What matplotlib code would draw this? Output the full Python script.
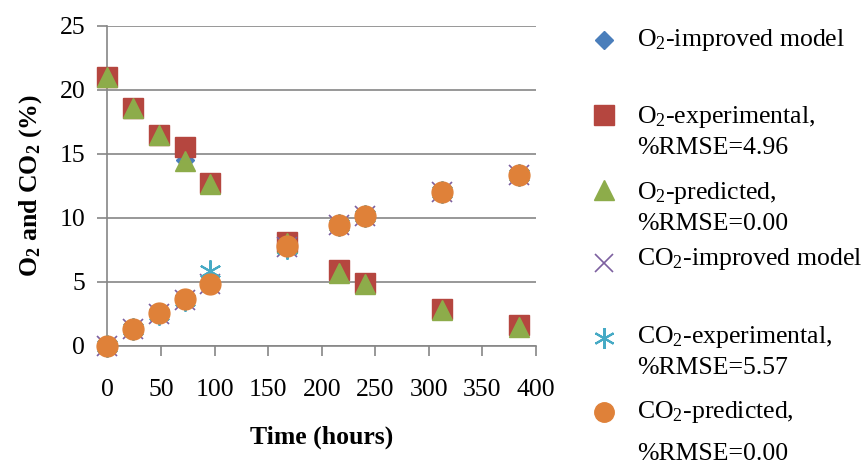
import matplotlib
matplotlib.use("Agg")
import matplotlib.pyplot as plt

# Storage time (hours)
time_h = [0, 24, 48, 72, 96, 168, 216, 240, 312, 384]

# O2 concentration (%)
o2_improved = [21.0, 18.6, 16.5, 14.5, 12.6, 8.0, 5.7, 4.8, 2.8, 1.5]
o2_experimental = [21.0, 18.6, 16.5, 15.5, 12.7, 8.1, 5.9, 4.9, 2.85, 1.6]
o2_predicted = [21.0, 18.6, 16.5, 14.4, 12.6, 8.0, 5.7, 4.8, 2.8, 1.5]

# CO2 concentration (%)
co2_improved = [0.0, 1.3, 2.5, 3.6, 4.8, 7.7, 9.4, 10.1, 12.0, 13.3]
co2_experimental = [0.0, 1.3, 2.5, 3.6, 5.8, 7.6, 9.4, 10.1, 12.0, 13.3]
co2_predicted = [0.0, 1.28, 2.52, 3.63, 4.8, 7.76, 9.4, 10.17, 12.0, 13.3]

x_ticks = [0, 50, 100, 150, 200, 250, 300, 350, 400]
y_ticks = [0, 5, 10, 15, 20, 25]

plt.rcParams["font.family"] = ["Liberation Serif", "DejaVu Serif"]
plt.rcParams["mathtext.fontset"] = "custom"
plt.rcParams["mathtext.rm"] = "Liberation Serif"
plt.rcParams["mathtext.it"] = "Liberation Serif:italic"
plt.rcParams["mathtext.bf"] = "Liberation Serif:bold"

FS = 18.5
grid_col = "#868686"

c_diamond = "#4A7EBB"
c_square = "#B5463F"
c_triangle = "#8DAC4A"
c_cross = "#7D60A0"
c_star = "#46AAC5"
c_circle = "#DF8139"

fig = plt.figure(figsize=(8.68, 4.68), dpi=100)
ax = fig.add_axes([0.1238, 0.2613, 0.4937, 0.6837])

series = [
    (o2_improved, dict(marker="D", ms=9, color=c_diamond, mec=c_diamond)),
    (o2_experimental, dict(marker="s", ms=15, color=c_square, mec=c_square)),
    (o2_predicted, dict(marker="^", ms=15, color=c_triangle, mec=c_triangle)),
    (co2_improved, dict(marker="x", ms=14, color=c_cross, mew=1.2)),
    (co2_experimental, dict(marker=(6, 2, 0), ms=16, color=c_star, mew=1.5)),
    (co2_predicted, dict(marker="o", ms=15, color=c_circle, mec=c_circle)),
]
for vals, style in series:
    ax.plot(time_h, vals, linestyle="none", clip_on=False, zorder=3, **style)

ax.set_xlim(0, 400)
ax.set_ylim(0, 25)
ax.set_xticks(x_ticks)
ax.set_yticks(y_ticks)
ax.yaxis.grid(True, color=grid_col, linewidth=1.2)
ax.set_axisbelow(True)
for side in ("top", "right"):
    ax.spines[side].set_visible(False)
for side in ("left", "bottom"):
    ax.spines[side].set_color(grid_col)
    ax.spines[side].set_linewidth(1.2)
ax.tick_params(axis="both", which="major", direction="out", length=7,
               width=1.2, color=grid_col, labelsize=FS)
ax.tick_params(axis="y", pad=9)
ax.tick_params(axis="x", pad=17)

ax.set_xlabel("Time (hours)", fontsize=FS, fontweight="bold", labelpad=18)
ax.set_ylabel(r"$\mathbf{O_2}$ and $\mathbf{CO_2}$ (%)", fontsize=FS,
              fontweight="bold", labelpad=11)

# Legend drawn entry by entry on the right
W, H = 868, 468
mk_x = 604 / W
tx_x = 637 / W
legend_items = [
    (40, dict(marker="D", ms=9, color=c_diamond), [(40, r"O$_2$-improved model")]),
    (115, dict(marker="s", ms=14, color=c_square),
     [(117, r"O$_2$-experimental,"), (148, "%RMSE=4.96")]),
    (190, dict(marker="^", ms=14, color=c_triangle),
     [(193, r"O$_2$-predicted,"), (224, "%RMSE=0.00")]),
    (263, dict(marker="x", ms=13, color=c_cross, mew=1.2),
     [(259, r"CO$_2$-improved model")]),
    (338, dict(marker=(6, 2, 0), ms=15, color=c_star, mew=1.5),
     [(337, r"CO$_2$-experimental,"), (368, "%RMSE=5.57")]),
    (412, dict(marker="o", ms=14, color=c_circle),
     [(412, r"CO$_2$-predicted,"), (454, "%RMSE=0.00")]),
]
for my, mstyle, lines in legend_items:
    fig.add_artist(plt.Line2D([mk_x], [1 - my / H], linestyle="none",
                              transform=fig.transFigure, **mstyle))
    for ty, txt in lines:
        fig.text(tx_x, 1 - ty / H, txt, fontsize=FS, ha="left", va="center")

fig.savefig("out.png", dpi=100)
